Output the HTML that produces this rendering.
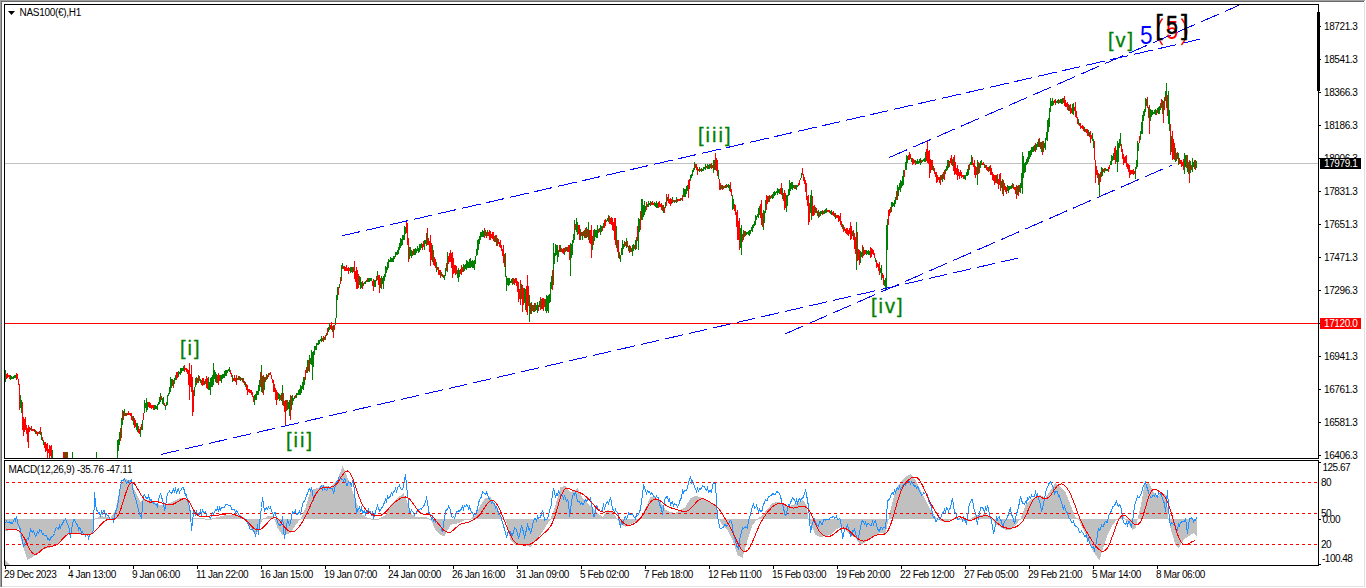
<!DOCTYPE html><html><head><meta charset="utf-8"><title>NAS100 H1</title><style>
html,body{margin:0;padding:0;width:1366px;height:588px;overflow:hidden;background:#fff;}
svg{position:absolute;left:0;top:0;}
text{font-family:"Liberation Sans",sans-serif;}
</style></head><body>
<svg width="1366" height="588" viewBox="0 0 1366 588">
<rect x="0" y="0" width="1365" height="1" fill="#a0a0a0"/>
<rect x="0" y="1" width="1364" height="1" fill="#696969"/>
<rect x="0" y="0" width="1" height="587" fill="#a0a0a0"/>
<rect x="1" y="1" width="1" height="586" fill="#696969"/>
<rect x="1364" y="2" width="1" height="585" fill="#e3e3e3"/>
<rect x="2" y="586" width="1363" height="1" fill="#e3e3e3"/>
<rect x="5" y="163" width="1313" height="1" fill="#c0c0c0"/>
<rect x="5" y="323" width="1313" height="1" fill="#ff0000"/>
<path d="M6.5 374V379M7.5 373V378M8.5 375V377M9.5 375V379M16.5 373V380M17.5 374V379M18.5 379V385M19.5 384V410M22.5 402V430M23.5 417V436M24.5 419V432M25.5 417V430M26.5 425V434M27.5 428V442M28.5 425V448M29.5 427V432M31.5 426V431M32.5 429V431M33.5 429V431M34.5 429V432M36.5 431V434M37.5 432V436M39.5 431V434M40.5 427V435M42.5 437V441M44.5 442V448M45.5 442V452M46.5 444V451M47.5 443V458M48.5 449V453M49.5 445V458M50.5 446V456M51.5 445V458M63.5 452V458M65.5 452V458M66.5 452V458M120.5 428V441M123.5 411V420M125.5 413V416M126.5 413V416M128.5 411V415M129.5 413V415M130.5 413V416M131.5 413V420M132.5 416V421M134.5 418V428M135.5 420V427M138.5 426V433M139.5 429V434M141.5 424V430M143.5 413V420M148.5 402V407M149.5 402V408M150.5 403V408M151.5 405V409M152.5 405V408M153.5 405V410M161.5 396V400M164.5 403V406M173.5 380V388M176.5 372V380M177.5 372V378M184.5 365V372M185.5 368V370M186.5 368V372M187.5 369V374M188.5 370V385M189.5 363V400M190.5 374V387M191.5 365V392M192.5 377V416M193.5 390V412M197.5 378V383M199.5 376V381M201.5 380V385M202.5 378V386M203.5 378V385M205.5 379V384M206.5 376V388M207.5 378V389M217.5 375V383M218.5 373V385M219.5 375V381M230.5 370V374M231.5 373V377M233.5 378V381M234.5 375V381M235.5 378V382M236.5 375V385M239.5 376V380M241.5 378V380M243.5 378V383M244.5 381V385M246.5 384V390M247.5 385V395M248.5 389V392M249.5 389V393M250.5 390V393M251.5 390V395M252.5 392V397M253.5 396V402M260.5 372V387M263.5 375V395M265.5 377V382M267.5 375V379M268.5 373V377M270.5 372V375M271.5 375V379M272.5 379V383M273.5 380V392M274.5 384V392M275.5 388V400M276.5 390V405M277.5 392V400M280.5 395V400M283.5 393V406M284.5 401V412M285.5 400V425M287.5 400V410M290.5 395V420M295.5 395V398M305.5 370V380M306.5 367V373M308.5 360V371M323.5 336V342M325.5 335V340M327.5 328V335M330.5 325V329M331.5 322V330M333.5 325V338M334.5 325V330M338.5 287V295M340.5 277V284M343.5 266V269M344.5 266V271M345.5 267V271M346.5 265V271M347.5 268V271M348.5 267V274M349.5 268V271M353.5 267V272M354.5 261V279M355.5 271V282M356.5 267V289M357.5 270V289M358.5 274V288M362.5 281V289M367.5 278V282M372.5 281V286M373.5 279V291M376.5 276V281M378.5 275V285M379.5 275V293M380.5 278V288M406.5 221V233M407.5 223V245M408.5 238V262M413.5 249V255M422.5 244V250M423.5 241V247M427.5 228V245M428.5 238V245M429.5 241V252M430.5 235V266M431.5 243V260M433.5 250V265M434.5 257V266M435.5 259V268M437.5 267V270M438.5 267V275M439.5 270V275M440.5 270V278M442.5 274V277M446.5 263V271M448.5 256V264M449.5 253V262M450.5 250V262M451.5 253V268M452.5 252V278M453.5 258V274M454.5 265V273M455.5 265V275M456.5 266V274M460.5 269V274M461.5 265V275M462.5 267V272M484.5 228V238M486.5 232V238M488.5 232V236M489.5 230V240M490.5 231V240M491.5 234V238M492.5 232V239M493.5 232V241M495.5 235V242M496.5 235V246M498.5 239V244M499.5 242V247M500.5 240V248M501.5 245V251M502.5 249V256M503.5 245V263M504.5 254V267M513.5 278V284M514.5 279V285M515.5 278V283M516.5 278V286M517.5 281V292M518.5 282V302M519.5 289V299M520.5 280V305M522.5 285V312M523.5 288V305M526.5 286V312M527.5 275V315M528.5 286V306M530.5 303V314M532.5 305V311M535.5 303V311M538.5 305V311M540.5 297V310M542.5 298V309M543.5 298V311M544.5 299V307M552.5 270V290M559.5 245V252M561.5 248V252M562.5 249V253M563.5 248V254M565.5 247V252M567.5 247V252M568.5 245V252M569.5 245V260M575.5 224V230M578.5 225V234M579.5 225V240M581.5 232V236M583.5 231V236M585.5 228V238M587.5 229V237M589.5 230V243M590.5 230V244M591.5 225V258M593.5 230V245M598.5 229V233M602.5 226V231M604.5 220V228M605.5 219V226M609.5 216V224M610.5 218V224M611.5 217V225M612.5 218V230M613.5 222V231M614.5 218V240M615.5 218V245M617.5 240V252M618.5 240V258M625.5 242V246M627.5 241V247M629.5 245V253M630.5 246V252M634.5 245V249M637.5 226V241M640.5 211V230M646.5 202V210M651.5 202V205M652.5 201V205M653.5 203V205M658.5 202V208M659.5 201V207M660.5 204V207M661.5 203V210M662.5 205V211M664.5 207V213M666.5 194V206M668.5 194V203M669.5 199V204M670.5 198V206M671.5 199V204M673.5 200V202M675.5 200V202M677.5 199V202M678.5 199V201M679.5 199V201M681.5 198V200M682.5 195V201M688.5 180V198M689.5 179V189M695.5 164V168M696.5 164V170M697.5 167V175M698.5 169V171M700.5 169V171M706.5 166V168M711.5 163V169M712.5 165V168M715.5 153V170M716.5 158V171M717.5 160V176M719.5 179V190M720.5 183V190M722.5 185V190M725.5 185V188M727.5 185V187M730.5 182V192M731.5 189V196M734.5 204V211M735.5 205V215M736.5 212V227M737.5 210V240M738.5 221V240M739.5 218V250M742.5 234V242M744.5 231V237M760.5 204V218M761.5 200V225M762.5 213V227M766.5 195V210M767.5 196V204M769.5 195V202M771.5 195V198M780.5 188V194M781.5 183V195M783.5 193V201M784.5 190V210M785.5 193V208M794.5 185V189M798.5 183V186M799.5 180V185M802.5 168V175M803.5 174V181M804.5 177V184M805.5 180V192M806.5 183V200M807.5 196V206M808.5 195V225M809.5 203V222M812.5 196V216M813.5 206V216M814.5 205V215M816.5 208V213M819.5 212V217M822.5 210V215M827.5 210V212M828.5 210V212M829.5 210V213M832.5 212V215M833.5 211V216M834.5 213V217M836.5 215V218M837.5 215V218M838.5 215V222M839.5 216V221M840.5 213V225M841.5 221V227M843.5 225V232M844.5 227V231M845.5 229V233M846.5 228V234M847.5 228V235M848.5 230V236M849.5 228V234M850.5 222V240M851.5 226V239M853.5 230V240M854.5 233V249M855.5 237V254M857.5 232V261M858.5 249V260M859.5 250V265M862.5 245V258M864.5 250V255M865.5 250V254M870.5 247V258M871.5 248V257M872.5 249V254M873.5 250V255M874.5 253V258M876.5 260V268M877.5 263V267M878.5 264V271M879.5 262V275M882.5 273V278M883.5 275V285M888.5 210V225M889.5 209V216M890.5 207V213M896.5 191V200M904.5 170V177M908.5 155V160M909.5 152V160M910.5 154V159M912.5 158V165M913.5 159V164M915.5 160V165M921.5 160V163M926.5 149V161M927.5 140V163M928.5 151V164M929.5 150V178M930.5 159V173M931.5 160V170M932.5 160V170M934.5 168V174M935.5 172V177M936.5 172V183M937.5 175V182M938.5 177V180M939.5 177V183M940.5 175V185M943.5 172V179M944.5 170V180M949.5 161V167M950.5 158V163M951.5 155V165M953.5 157V171M954.5 155V175M955.5 162V174M956.5 168V175M957.5 165V180M958.5 169V176M959.5 172V179M960.5 170V176M961.5 172V178M962.5 175V177M963.5 175V179M969.5 164V170M972.5 157V165M973.5 163V167M974.5 160V175M975.5 166V178M976.5 167V175M978.5 162V174M982.5 163V165M983.5 162V165M985.5 165V168M986.5 165V170M987.5 167V171M988.5 167V172M990.5 165V175M991.5 168V175M992.5 172V180M993.5 174V181M994.5 175V185M995.5 175V183M997.5 174V184M998.5 179V189M999.5 174V185M1000.5 173V191M1003.5 180V196M1004.5 183V190M1005.5 186V192M1006.5 187V194M1013.5 184V189M1014.5 187V190M1015.5 187V194M1016.5 185V199M1018.5 185V196M1035.5 143V152M1039.5 138V147M1040.5 142V149M1042.5 141V155M1054.5 100V103M1055.5 99V105M1059.5 100V103M1063.5 98V103M1064.5 96V106M1065.5 100V107M1066.5 103V107M1067.5 102V110M1068.5 104V111M1070.5 104V114M1071.5 108V113M1074.5 107V111M1075.5 102V117M1076.5 111V118M1077.5 117V124M1079.5 123V126M1080.5 123V129M1081.5 126V128M1082.5 125V129M1083.5 126V131M1085.5 129V132M1086.5 129V133M1087.5 129V136M1089.5 132V137M1090.5 131V143M1091.5 135V139M1094.5 141V160M1095.5 160V183M1096.5 166V175M1097.5 170V178M1098.5 173V185M1100.5 172V182M1103.5 169V172M1105.5 168V171M1108.5 167V172M1109.5 165V169M1114.5 148V160M1115.5 146V164M1121.5 144V152M1122.5 149V159M1123.5 154V165M1124.5 157V163M1125.5 156V163M1126.5 155V167M1127.5 163V169M1128.5 164V172M1129.5 165V178M1130.5 170V175M1131.5 170V174M1132.5 170V174M1133.5 169V175M1134.5 171V174M1139.5 136V143M1147.5 97V108M1149.5 105V134M1156.5 110V115M1161.5 99V108M1163.5 101V123M1164.5 97V110M1167.5 95V116M1170.5 124V155M1172.5 131V160M1173.5 139V159M1174.5 143V160M1177.5 152V159M1179.5 158V164M1180.5 160V164M1181.5 160V167M1182.5 162V166M1183.5 159V170M1186.5 155V168M1189.5 160V183M1191.5 165V170M1195.5 160V170" stroke="#ff0000" stroke-width="1" fill="none" shape-rendering="crispEdges"/>
<path d="M5.5 370V382M10.5 375V380M11.5 376V379M12.5 377V379M13.5 376V379M14.5 375V378M15.5 375V378M20.5 395V408M21.5 400V413M30.5 428V430M35.5 430V434M38.5 432V434M41.5 432V440M43.5 440V445M52.5 450V458M64.5 452V458M67.5 452V458M72.5 452V458M96.5 452V458M117.5 440V458M118.5 439V451M119.5 432V445M121.5 418V438M122.5 410V425M124.5 409V416M127.5 413V415M133.5 416V425M136.5 423V430M137.5 423V432M140.5 427V437M142.5 420V430M144.5 400V413M145.5 403V408M146.5 398V412M147.5 402V410M154.5 405V410M155.5 405V409M156.5 406V409M157.5 404V410M158.5 402V405M159.5 397V404M160.5 393V402M162.5 398V404M163.5 397V405M165.5 405V410M166.5 402V406M167.5 395V405M168.5 393V396M169.5 387V394M170.5 377V392M171.5 379V388M172.5 379V386M174.5 378V384M175.5 375V380M178.5 371V377M179.5 372V374M180.5 368V375M181.5 368V373M182.5 368V371M183.5 366V371M194.5 387V396M195.5 378V387M196.5 377V385M198.5 375V383M200.5 379V383M204.5 381V385M208.5 377V390M209.5 382V390M210.5 378V395M211.5 377V387M212.5 375V387M213.5 363V385M214.5 370V379M215.5 372V382M216.5 374V383M220.5 375V381M221.5 375V383M222.5 374V379M223.5 374V378M224.5 371V378M225.5 370V376M226.5 370V376M227.5 370V373M228.5 369V371M229.5 367V372M232.5 375V382M237.5 378V380M238.5 376V380M240.5 377V381M242.5 378V382M245.5 382V387M254.5 395V405M255.5 394V400M256.5 391V400M257.5 391V395M258.5 385V395M259.5 380V391M261.5 365V392M262.5 376V393M264.5 377V390M266.5 374V380M269.5 373V375M278.5 393V399M279.5 394V401M281.5 393V401M282.5 385V405M286.5 400V411M288.5 402V409M289.5 400V416M291.5 396V410M292.5 395V405M293.5 398V401M294.5 396V399M296.5 393V398M297.5 393V395M298.5 390V395M299.5 389V395M300.5 385V395M301.5 386V393M302.5 382V389M303.5 377V390M304.5 377V385M307.5 360V373M309.5 355V372M310.5 358V364M311.5 350V365M312.5 352V380M313.5 351V367M314.5 346V355M315.5 346V350M316.5 343V350M317.5 343V345M318.5 340V345M319.5 340V344M320.5 339V341M321.5 336V342M322.5 338V341M324.5 337V340M326.5 333V336M328.5 327V332M329.5 323V330M332.5 326V332M335.5 318V325M336.5 295V318M337.5 287V300M339.5 284V288M341.5 265V281M342.5 263V269M350.5 267V273M351.5 267V272M352.5 267V273M359.5 276V285M360.5 277V289M361.5 282V288M363.5 283V286M364.5 282V284M365.5 281V284M366.5 280V282M368.5 278V282M369.5 278V282M370.5 278V281M371.5 278V281M374.5 280V287M375.5 280V287M377.5 271V280M381.5 276V289M382.5 278V284M383.5 276V289M384.5 274V281M385.5 266V277M386.5 267V273M387.5 262V270M388.5 259V268M389.5 260V262M390.5 257V262M391.5 258V262M392.5 258V262M393.5 256V262M394.5 256V259M395.5 252V257M396.5 252V255M397.5 250V255M398.5 247V254M399.5 243V250M400.5 238V248M401.5 239V246M402.5 235V245M403.5 235V240M404.5 226V240M405.5 227V234M409.5 247V259M410.5 247V256M411.5 250V258M412.5 251V256M414.5 249V255M415.5 248V255M416.5 249V253M417.5 246V251M418.5 248V253M419.5 244V252M420.5 244V250M421.5 243V248M424.5 240V250M425.5 240V244M426.5 233V246M432.5 245V262M436.5 262V272M441.5 272V276M443.5 275V278M444.5 275V280M445.5 268V276M447.5 252V272M457.5 270V278M458.5 268V282M459.5 270V277M463.5 264V272M464.5 265V271M465.5 264V269M466.5 260V270M467.5 261V268M468.5 262V268M469.5 259V268M470.5 258V268M471.5 261V267M472.5 260V268M473.5 261V268M474.5 260V270M475.5 256V264M476.5 249V256M477.5 240V255M478.5 239V250M479.5 236V244M480.5 232V240M481.5 232V237M482.5 230V237M483.5 231V237M485.5 230V236M487.5 230V236M494.5 236V242M497.5 238V246M505.5 253V277M506.5 276V291M507.5 278V285M508.5 278V286M509.5 278V285M510.5 281V283M511.5 279V283M512.5 278V285M521.5 284V299M524.5 288V303M525.5 289V310M529.5 295V322M531.5 302V314M533.5 305V312M534.5 303V312M536.5 305V310M537.5 302V313M539.5 301V307M541.5 299V309M545.5 299V311M546.5 295V313M547.5 296V311M548.5 295V313M549.5 294V303M550.5 282V302M551.5 276V289M553.5 243V285M554.5 253V264M555.5 244V256M556.5 245V255M557.5 245V262M558.5 250V257M560.5 245V252M564.5 248V255M566.5 247V251M570.5 243V276M571.5 244V258M572.5 240V255M573.5 234V243M574.5 220V240M576.5 218V232M577.5 222V235M580.5 229V240M582.5 232V240M584.5 230V238M586.5 227V238M588.5 222V240M592.5 236V250M594.5 229V241M595.5 230V237M596.5 230V238M597.5 225V238M599.5 228V232M600.5 225V235M601.5 226V232M603.5 223V228M606.5 220V222M607.5 218V221M608.5 215V222M616.5 226V248M619.5 252V259M620.5 255V262M621.5 248V255M622.5 240V255M623.5 244V249M624.5 241V247M626.5 238V248M628.5 246V251M631.5 248V252M632.5 245V256M633.5 244V251M635.5 240V250M636.5 237V249M638.5 218V250M639.5 219V232M641.5 199V220M642.5 199V220M643.5 205V217M644.5 201V215M645.5 206V212M647.5 204V207M648.5 201V207M649.5 203V205M650.5 201V206M654.5 202V206M655.5 203V207M656.5 201V208M657.5 203V208M663.5 205V213M665.5 202V208M667.5 197V201M672.5 197V203M674.5 200V203M676.5 197V203M680.5 198V201M683.5 188V197M684.5 189V197M685.5 189V197M686.5 186V194M687.5 185V191M690.5 175V181M691.5 174V178M692.5 170V176M693.5 168V172M694.5 162V170M699.5 167V172M701.5 168V172M702.5 169V171M703.5 167V171M704.5 167V169M705.5 164V170M707.5 164V169M708.5 165V169M709.5 164V169M710.5 164V168M713.5 160V173M714.5 160V170M718.5 170V179M721.5 185V189M723.5 186V189M724.5 186V188M726.5 184V188M728.5 184V188M729.5 185V191M732.5 195V210M733.5 199V209M740.5 228V248M741.5 225V255M743.5 230V240M745.5 231V236M746.5 232V235M747.5 232V234M748.5 231V235M749.5 230V236M750.5 230V234M751.5 227V231M752.5 225V232M753.5 224V228M754.5 221V226M755.5 215V225M756.5 216V220M757.5 214V217M758.5 208V218M759.5 206V215M763.5 210V230M764.5 211V223M765.5 200V213M768.5 196V202M770.5 196V199M772.5 194V199M773.5 192V198M774.5 191V196M775.5 192V195M776.5 191V193M777.5 188V195M778.5 189V193M779.5 189V194M782.5 188V199M786.5 195V212M787.5 195V206M788.5 189V196M789.5 180V195M790.5 183V191M791.5 182V189M792.5 182V190M793.5 185V188M795.5 185V189M796.5 185V190M797.5 185V187M800.5 178V180M801.5 173V178M810.5 195V213M811.5 190V220M815.5 207V213M817.5 211V216M818.5 210V218M820.5 211V216M821.5 211V214M823.5 211V214M824.5 210V214M825.5 209V213M826.5 208V213M830.5 211V214M831.5 210V215M835.5 213V219M842.5 224V229M852.5 231V236M856.5 222V270M860.5 251V263M861.5 252V257M863.5 247V256M866.5 250V255M867.5 251V254M868.5 250V255M869.5 251V255M875.5 258V262M880.5 268V273M881.5 265V280M884.5 280V286M885.5 278V290M886.5 225V288M887.5 219V250M891.5 202V212M892.5 202V207M893.5 203V206M894.5 200V207M895.5 197V204M897.5 185V200M898.5 187V196M899.5 183V190M900.5 180V192M901.5 181V188M902.5 176V186M903.5 170V185M905.5 162V170M906.5 155V170M907.5 156V163M911.5 158V162M914.5 160V163M916.5 161V164M917.5 159V164M918.5 161V164M919.5 159V163M920.5 158V165M922.5 160V162M923.5 159V161M924.5 158V162M925.5 152V162M933.5 166V171M941.5 175V180M942.5 174V182M945.5 169V174M946.5 166V171M947.5 160V170M948.5 160V168M952.5 159V166M964.5 175V179M965.5 175V180M966.5 172V176M967.5 169V176M968.5 165V175M970.5 162V165M971.5 155V165M977.5 160V185M979.5 163V173M980.5 161V168M981.5 160V165M984.5 164V168M989.5 166V171M996.5 175V183M1001.5 181V188M1002.5 179V194M1007.5 185V191M1008.5 186V193M1009.5 186V190M1010.5 186V189M1011.5 185V189M1012.5 183V188M1017.5 186V195M1019.5 185V192M1020.5 183V193M1021.5 173V188M1022.5 152V194M1023.5 156V178M1024.5 163V173M1025.5 162V172M1026.5 159V165M1027.5 157V164M1028.5 151V162M1029.5 151V159M1030.5 150V157M1031.5 147V155M1032.5 147V152M1033.5 146V152M1034.5 145V151M1036.5 144V150M1037.5 142V147M1038.5 139V147M1041.5 142V152M1043.5 141V152M1044.5 143V148M1045.5 138V150M1046.5 132V140M1047.5 120V141M1048.5 118V132M1049.5 108V127M1050.5 98V112M1051.5 101V106M1052.5 98V106M1053.5 101V105M1056.5 101V103M1057.5 100V103M1058.5 99V104M1060.5 99V103M1061.5 99V104M1062.5 98V104M1069.5 105V111M1072.5 104V114M1073.5 103V115M1078.5 119V125M1084.5 127V132M1088.5 130V136M1092.5 133V141M1093.5 139V148M1099.5 174V197M1101.5 167V177M1102.5 168V176M1104.5 168V173M1106.5 169V171M1107.5 169V171M1110.5 161V165M1111.5 155V165M1112.5 156V161M1113.5 153V160M1116.5 150V162M1117.5 141V172M1118.5 143V162M1119.5 139V148M1120.5 133V146M1135.5 167V179M1136.5 160V169M1137.5 141V167M1138.5 143V151M1140.5 131V140M1141.5 122V134M1142.5 115V134M1143.5 111V121M1144.5 109V116M1145.5 98V112M1146.5 99V106M1148.5 107V118M1150.5 109V121M1151.5 110V117M1152.5 110V115M1153.5 112V114M1154.5 110V114M1155.5 109V115M1157.5 108V113M1158.5 107V114M1159.5 106V114M1160.5 103V110M1162.5 100V114M1165.5 91V101M1166.5 83V108M1168.5 91V124M1169.5 110V131M1171.5 136V152M1175.5 148V162M1176.5 153V161M1178.5 153V165M1184.5 153V174M1185.5 155V167M1187.5 155V172M1188.5 162V174M1190.5 161V173M1192.5 158V172M1193.5 162V167M1194.5 160V169M1196.5 161V168" stroke="#008000" stroke-width="1" fill="none" shape-rendering="crispEdges"/>
<line x1="342.4" y1="235.7" x2="1199.5" y2="39.3" stroke="#0000ff" stroke-width="1" stroke-dasharray="18.467 6.156" shape-rendering="crispEdges"/>
<line x1="161" y1="454.4" x2="1018" y2="258.1" stroke="#0000ff" stroke-width="1" stroke-dasharray="18.466 6.155" shape-rendering="crispEdges"/>
<line x1="785.1" y1="333.9" x2="1172" y2="165" stroke="#0000ff" stroke-width="1" stroke-dasharray="19.640 6.547" shape-rendering="crispEdges"/>
<line x1="889" y1="157.6" x2="1238.8" y2="5.4" stroke="#0000ff" stroke-width="1" stroke-dasharray="19.630 6.543" shape-rendering="crispEdges"/>
<path d="M4.5 4.5H1318.5V458.5H4.5Z" stroke="#000" stroke-width="1" fill="none" shape-rendering="crispEdges"/>
<rect x="1317" y="12" width="3" height="79" fill="#000"/>
<rect x="1319" y="26" width="2" height="1" fill="#000"/>
<text x="1324" y="30" font-size="10" letter-spacing="-0.4" fill="#000">18721.3</text>
<rect x="1319" y="59" width="2" height="1" fill="#000"/>
<text x="1324" y="63" font-size="10" letter-spacing="-0.4" fill="#000">18541.3</text>
<rect x="1319" y="92" width="2" height="1" fill="#000"/>
<text x="1324" y="96" font-size="10" letter-spacing="-0.4" fill="#000">18366.3</text>
<rect x="1319" y="125" width="2" height="1" fill="#000"/>
<text x="1324" y="129" font-size="10" letter-spacing="-0.4" fill="#000">18186.3</text>
<rect x="1319" y="158" width="2" height="1" fill="#000"/>
<text x="1324" y="162" font-size="10" letter-spacing="-0.4" fill="#000">18006.3</text>
<rect x="1319" y="191" width="2" height="1" fill="#000"/>
<text x="1324" y="195" font-size="10" letter-spacing="-0.4" fill="#000">17831.3</text>
<rect x="1319" y="224" width="2" height="1" fill="#000"/>
<text x="1324" y="228" font-size="10" letter-spacing="-0.4" fill="#000">17651.3</text>
<rect x="1319" y="257" width="2" height="1" fill="#000"/>
<text x="1324" y="261" font-size="10" letter-spacing="-0.4" fill="#000">17471.3</text>
<rect x="1319" y="290" width="2" height="1" fill="#000"/>
<text x="1324" y="294" font-size="10" letter-spacing="-0.4" fill="#000">17296.3</text>
<rect x="1319" y="323" width="2" height="1" fill="#000"/>
<rect x="1319" y="356" width="2" height="1" fill="#000"/>
<text x="1324" y="360" font-size="10" letter-spacing="-0.4" fill="#000">16941.3</text>
<rect x="1319" y="389" width="2" height="1" fill="#000"/>
<text x="1324" y="393" font-size="10" letter-spacing="-0.4" fill="#000">16761.3</text>
<rect x="1319" y="422" width="2" height="1" fill="#000"/>
<text x="1324" y="426" font-size="10" letter-spacing="-0.4" fill="#000">16581.3</text>
<rect x="1319" y="455" width="2" height="1" fill="#000"/>
<text x="1324" y="459" font-size="10" letter-spacing="-0.4" fill="#000">16406.3</text>
<rect x="1320" y="158" width="41" height="11" fill="#000"/>
<text x="1324" y="167" font-size="10" letter-spacing="-0.4" fill="#fff">17979.1</text>
<rect x="1320" y="318" width="41" height="11" fill="#ff0000"/>
<text x="1324" y="327" font-size="10" letter-spacing="-0.4" fill="#fff">17120.0</text>
<path d="M8 11H15L11.5 15Z" fill="#000"/>
<text x="19.5" y="16" font-size="10" letter-spacing="-0.3" fill="#000">NAS100(€),H1</text>
<text x="180" y="355" font-size="20" letter-spacing="2" fill="#008000" stroke="#008000" stroke-width="0.3">[i]</text>
<text x="286" y="447" font-size="20" letter-spacing="2" fill="#008000" stroke="#008000" stroke-width="0.3">[ii]</text>
<text x="698" y="142" font-size="20" letter-spacing="2" fill="#008000" stroke="#008000" stroke-width="0.3">[iii]</text>
<text x="871" y="313" font-size="20" letter-spacing="2" fill="#008000" stroke="#008000" stroke-width="0.3">[iv]</text>
<text x="1108" y="47" font-size="20" letter-spacing="2" fill="#008000" stroke="#008000" stroke-width="0.3">[v]</text>
<text transform="translate(1140 44) scale(0.87 1)" x="0" y="0" font-size="26" fill="#0000ff">5</text>
<path d="M1162.5 18.5Q1152.7 31.7 1162.5 45M1181.5 18.5Q1192 31.7 1181.5 45" stroke="#ff0000" stroke-width="1.4" fill="none"/>
<text transform="translate(1166.2 39) scale(0.82 1)" x="0" y="0" font-size="26" fill="#ff0000">5</text>
<text x="1155" y="34" font-size="28" letter-spacing="0" fill="#000000" stroke="#000000" stroke-width="0.3">[</text>
<text x="1181" y="34" font-size="28" letter-spacing="0" fill="#000000" stroke="#000000" stroke-width="0.3">]</text>
<text transform="translate(1166 34) scale(0.82 1)" x="0" y="0" font-size="26" fill="#000" stroke="#000" stroke-width="0.5">5</text>
<path d="M5.5 519V531M6.5 519V531M7.5 519V531M8.5 519V530M9.5 519V530M10.5 519V530M11.5 519V530M12.5 519V530M13.5 519V529M14.5 519V529M15.5 519V529M16.5 519V529M17.5 519V529M18.5 519V528M19.5 519V533M20.5 519V537M21.5 519V541M22.5 519V545M23.5 519V548M24.5 519V551M25.5 519V554M26.5 519V557M27.5 519V560M28.5 519V559M29.5 519V559M30.5 519V558M31.5 519V558M32.5 519V557M33.5 519V556M34.5 519V556M35.5 519V555M36.5 519V554M37.5 519V553M38.5 519V552M39.5 519V551M40.5 519V550M41.5 519V550M42.5 519V549M43.5 519V549M44.5 519V549M45.5 519V549M46.5 519V548M47.5 519V548M48.5 519V548M49.5 519V548M50.5 519V547M51.5 519V547M52.5 519V546M53.5 519V546M54.5 519V545M55.5 519V545M56.5 519V544M57.5 519V544M58.5 519V543M59.5 519V543M60.5 519V542M61.5 519V541M62.5 519V539M63.5 519V538M64.5 519V537M65.5 519V536M66.5 519V535M67.5 519V535M68.5 519V534M69.5 519V534M70.5 519V533M71.5 519V533M72.5 519V533M73.5 519V533M74.5 519V533M75.5 519V534M76.5 519V534M77.5 519V534M78.5 519V534M79.5 519V534M80.5 519V534M81.5 519V534M82.5 519V534M83.5 519V534M84.5 519V534M85.5 519V534M86.5 519V534M87.5 519V535M88.5 519V535M89.5 519V535M90.5 519V535M91.5 519V534M92.5 519V534M93.5 519V520M94.5 519V520M95.5 518V519M96.5 518V519M97.5 518V519M98.5 517V519M99.5 516V519M100.5 516V519M101.5 516V519M102.5 516V519M103.5 517V519M104.5 517V519M105.5 517V519M106.5 517V519M107.5 517V519M108.5 517V519M109.5 518V519M110.5 518V519M111.5 516V519M112.5 515V519M113.5 513V519M114.5 512V519M115.5 510V519M116.5 505V519M117.5 500V519M118.5 495V519M119.5 490V519M120.5 485V519M121.5 484V519M122.5 483V519M123.5 481V519M124.5 480V519M125.5 479V519M126.5 479V519M127.5 480V519M128.5 480V519M129.5 480V519M130.5 481V519M131.5 483V519M132.5 485V519M133.5 488V519M134.5 490V519M135.5 492V519M136.5 494V519M137.5 496V519M138.5 498V519M139.5 500V519M140.5 502V519M141.5 501V519M142.5 500V519M143.5 499V519M144.5 499V519M145.5 499V519M146.5 500V519M147.5 500V519M148.5 500V519M149.5 500V519M150.5 501V519M151.5 501V519M152.5 501V519M153.5 502V519M154.5 502V519M155.5 503V519M156.5 503V519M157.5 504V519M158.5 504V519M159.5 505V519M160.5 505V519M161.5 505V519M162.5 505V519M163.5 504V519M164.5 504V519M165.5 504V519M166.5 504V519M167.5 504V519M168.5 503V519M169.5 503V519M170.5 503V519M171.5 502V519M172.5 502V519M173.5 501V519M174.5 501V519M175.5 500V519M176.5 500V519M177.5 499V519M178.5 499V519M179.5 498V519M180.5 498V519M181.5 498V519M182.5 498V519M183.5 498V519M184.5 498V519M185.5 499V519M186.5 499V519M187.5 499V519M188.5 504V519M189.5 510V519M190.5 519V520M191.5 519V520M192.5 519V520M193.5 518V519M194.5 518V519M195.5 518V519M196.5 518V519M197.5 518V519M198.5 518V519M199.5 518V519M200.5 518V519M201.5 518V519M202.5 518V519M203.5 518V519M204.5 518V519M205.5 519V520M206.5 519V520M207.5 519V520M208.5 519V520M209.5 519V520M210.5 519V520M211.5 519V520M212.5 518V519M213.5 518V519M214.5 518V519M215.5 518V519M216.5 517V519M217.5 517V519M218.5 517V519M219.5 517V519M220.5 516V519M221.5 516V519M222.5 516V519M223.5 516V519M224.5 515V519M225.5 515V519M226.5 515V519M227.5 515V519M228.5 515V519M229.5 515V519M230.5 515V519M231.5 515V519M232.5 515V519M233.5 515V519M234.5 515V519M235.5 515V519M236.5 515V519M237.5 515V519M238.5 515V519M239.5 515V519M240.5 515V519M241.5 516V519M242.5 517V519M243.5 517V519M244.5 518V519M245.5 519V520M246.5 519V521M247.5 519V523M248.5 519V524M249.5 519V526M250.5 519V528M251.5 519V529M252.5 519V531M253.5 519V532M254.5 519V534M255.5 519V535M256.5 519V533M257.5 519V532M258.5 519V530M259.5 519V527M260.5 519V524M261.5 519V522M262.5 519V520M263.5 518V519M264.5 518V519M265.5 518V519M266.5 517V519M267.5 516V519M268.5 516V519M269.5 516V519M270.5 516V519M271.5 516V519M272.5 516V519M273.5 516V519M274.5 519V520M275.5 519V522M276.5 519V525M277.5 519V528M278.5 519V529M279.5 519V531M280.5 519V532M281.5 519V534M282.5 519V535M283.5 519V535M284.5 519V535M285.5 519V534M286.5 519V534M287.5 519V534M288.5 519V534M289.5 519V533M290.5 519V533M291.5 519V531M292.5 519V530M293.5 519V528M294.5 519V527M295.5 519V525M296.5 519V524M297.5 519V523M298.5 519V521M299.5 519V520M300.5 519V520M301.5 517V519M302.5 515V519M303.5 512V519M304.5 510V519M305.5 508V519M306.5 504V519M307.5 501V519M308.5 497V519M309.5 494V519M310.5 490V519M311.5 490V519M312.5 490V519M313.5 489V519M314.5 489V519M315.5 489V519M316.5 488V519M317.5 488V519M318.5 488V519M319.5 487V519M320.5 486V519M321.5 486V519M322.5 485V519M323.5 485V519M324.5 486V519M325.5 486V519M326.5 486V519M327.5 486V519M328.5 486V519M329.5 487V519M330.5 487V519M331.5 486V519M332.5 485V519M333.5 484V519M334.5 483V519M335.5 482V519M336.5 481V519M337.5 480V519M338.5 477V519M339.5 474V519M340.5 472V519M341.5 469V519M342.5 466V519M343.5 468V519M344.5 470V519M345.5 473V519M346.5 475V519M347.5 478V519M348.5 480V519M349.5 482V519M350.5 485V519M351.5 488V519M352.5 491V519M353.5 494V519M354.5 497V519M355.5 500V519M356.5 503V519M357.5 505V519M358.5 508V519M359.5 510V519M360.5 513V519M361.5 514V519M362.5 515V519M363.5 515V519M364.5 516V519M365.5 517V519M366.5 517V519M367.5 518V519M368.5 518V519M369.5 518V519M370.5 518V519M371.5 519V520M372.5 519V520M373.5 519V520M374.5 519V520M375.5 519V520M376.5 519V520M377.5 519V520M378.5 519V520M379.5 518V519M380.5 518V519M381.5 517V519M382.5 517V519M383.5 516V519M384.5 516V519M385.5 515V519M386.5 513V519M387.5 511V519M388.5 509V519M389.5 507V519M390.5 505V519M391.5 504V519M392.5 503V519M393.5 502V519M394.5 501V519M395.5 500V519M396.5 499V519M397.5 498V519M398.5 497V519M399.5 496V519M400.5 496V519M401.5 495V519M402.5 494V519M403.5 493V519M404.5 496V519M405.5 498V519M406.5 500V519M407.5 503V519M408.5 506V519M409.5 510V519M410.5 513V519M411.5 514V519M412.5 515V519M413.5 515V519M414.5 516V519M415.5 517V519M416.5 517V519M417.5 517V519M418.5 517V519M419.5 517V519M420.5 517V519M421.5 517V519M422.5 517V519M423.5 517V519M424.5 517V519M425.5 517V519M426.5 517V519M427.5 518V519M428.5 518V519M429.5 519V520M430.5 519V520M431.5 519V521M432.5 519V523M433.5 519V526M434.5 519V528M435.5 519V530M436.5 519V531M437.5 519V532M438.5 519V533M439.5 519V534M440.5 519V535M441.5 519V535M442.5 519V536M443.5 519V536M444.5 519V536M445.5 519V534M446.5 519V532M447.5 519V530M448.5 519V529M449.5 519V527M450.5 519V525M451.5 519V525M452.5 519V524M453.5 519V524M454.5 519V524M455.5 519V524M456.5 519V524M457.5 519V523M458.5 519V523M459.5 519V523M460.5 519V522M461.5 519V522M462.5 519V521M463.5 519V521M464.5 519V520M465.5 519V520M466.5 519V520M467.5 519V520M468.5 519V520M469.5 519V520M470.5 519V520M471.5 518V519M472.5 517V519M473.5 517V519M474.5 516V519M475.5 515V519M476.5 513V519M477.5 511V519M478.5 509V519M479.5 507V519M480.5 505V519M481.5 504V519M482.5 502V519M483.5 501V519M484.5 499V519M485.5 498V519M486.5 498V519M487.5 498V519M488.5 497V519M489.5 497V519M490.5 497V519M491.5 499V519M492.5 500V519M493.5 502V519M494.5 503V519M495.5 505V519M496.5 507V519M497.5 510V519M498.5 512V519M499.5 515V519M500.5 517V519M501.5 517V519M502.5 518V519M503.5 518V519M504.5 519V520M505.5 519V520M506.5 519V523M507.5 519V527M508.5 519V532M509.5 519V536M510.5 519V540M511.5 519V541M512.5 519V542M513.5 519V543M514.5 519V544M515.5 519V545M516.5 519V545M517.5 519V545M518.5 519V545M519.5 519V545M520.5 519V545M521.5 519V545M522.5 519V545M523.5 519V545M524.5 519V545M525.5 519V545M526.5 519V545M527.5 519V546M528.5 519V546M529.5 519V547M530.5 519V547M531.5 519V546M532.5 519V544M533.5 519V543M534.5 519V541M535.5 519V540M536.5 519V539M537.5 519V538M538.5 519V537M539.5 519V536M540.5 519V535M541.5 519V533M542.5 519V532M543.5 519V530M544.5 519V529M545.5 519V527M546.5 519V525M547.5 519V524M548.5 519V522M549.5 519V521M550.5 519V520M551.5 516V519M552.5 513V519M553.5 511V519M554.5 508V519M555.5 505V519M556.5 501V519M557.5 498V519M558.5 494V519M559.5 491V519M560.5 487V519M561.5 487V519M562.5 487V519M563.5 486V519M564.5 486V519M565.5 486V519M566.5 487V519M567.5 488V519M568.5 490V519M569.5 491V519M570.5 492V519M571.5 492V519M572.5 491V519M573.5 491V519M574.5 490V519M575.5 490V519M576.5 489V519M577.5 488V519M578.5 490V519M579.5 492V519M580.5 494V519M581.5 496V519M582.5 498V519M583.5 499V519M584.5 500V519M585.5 501V519M586.5 502V519M587.5 503V519M588.5 504V519M589.5 505V519M590.5 506V519M591.5 507V519M592.5 508V519M593.5 509V519M594.5 510V519M595.5 511V519M596.5 512V519M597.5 513V519M598.5 514V519M599.5 515V519M600.5 515V519M601.5 516V519M602.5 517V519M603.5 516V519M604.5 514V519M605.5 513V519M606.5 511V519M607.5 510V519M608.5 510V519M609.5 511V519M610.5 511V519M611.5 512V519M612.5 512V519M613.5 513V519M614.5 515V519M615.5 516V519M616.5 518V519M617.5 519V520M618.5 519V521M619.5 519V522M620.5 519V524M621.5 519V525M622.5 519V525M623.5 519V526M624.5 519V526M625.5 519V527M626.5 519V526M627.5 519V526M628.5 519V525M629.5 519V525M630.5 519V524M631.5 519V524M632.5 519V523M633.5 519V523M634.5 519V522M635.5 519V522M636.5 519V521M637.5 519V520M638.5 519V520M639.5 518V519M640.5 517V519M641.5 515V519M642.5 513V519M643.5 512V519M644.5 510V519M645.5 508V519M646.5 506V519M647.5 504V519M648.5 501V519M649.5 499V519M650.5 497V519M651.5 497V519M652.5 497V519M653.5 497V519M654.5 497V519M655.5 497V519M656.5 498V519M657.5 499V519M658.5 500V519M659.5 501V519M660.5 502V519M661.5 504V519M662.5 505V519M663.5 507V519M664.5 508V519M665.5 510V519M666.5 510V519M667.5 511V519M668.5 511V519M669.5 512V519M670.5 512V519M671.5 512V519M672.5 512V519M673.5 513V519M674.5 513V519M675.5 513V519M676.5 512V519M677.5 512V519M678.5 511V519M679.5 511V519M680.5 510V519M681.5 509V519M682.5 509V519M683.5 508V519M684.5 508V519M685.5 507V519M686.5 505V519M687.5 503V519M688.5 502V519M689.5 500V519M690.5 498V519M691.5 498V519M692.5 497V519M693.5 497V519M694.5 496V519M695.5 496V519M696.5 496V519M697.5 496V519M698.5 497V519M699.5 497V519M700.5 497V519M701.5 498V519M702.5 498V519M703.5 499V519M704.5 499V519M705.5 500V519M706.5 501V519M707.5 501V519M708.5 502V519M709.5 502V519M710.5 503V519M711.5 503V519M712.5 504V519M713.5 504V519M714.5 505V519M715.5 505V519M716.5 510V519M717.5 514V519M718.5 519V520M719.5 519V520M720.5 519V522M721.5 519V524M722.5 519V525M723.5 519V526M724.5 519V527M725.5 519V528M726.5 519V529M727.5 519V530M728.5 519V532M729.5 519V534M730.5 519V536M731.5 519V538M732.5 519V540M733.5 519V543M734.5 519V546M735.5 519V549M736.5 519V552M737.5 519V555M738.5 519V556M739.5 519V556M740.5 519V557M741.5 519V557M742.5 519V558M743.5 519V554M744.5 519V551M745.5 519V547M746.5 519V544M747.5 519V540M748.5 519V537M749.5 519V534M750.5 519V531M751.5 519V528M752.5 519V525M753.5 519V524M754.5 519V523M755.5 519V521M756.5 519V520M757.5 519V520M758.5 518V519M759.5 517V519M760.5 517V519M761.5 516V519M762.5 515V519M763.5 514V519M764.5 513V519M765.5 511V519M766.5 510V519M767.5 509V519M768.5 508V519M769.5 507V519M770.5 505V519M771.5 504V519M772.5 503V519M773.5 503V519M774.5 503V519M775.5 502V519M776.5 502V519M777.5 502V519M778.5 502V519M779.5 502V519M780.5 503V519M781.5 503V519M782.5 503V519M783.5 504V519M784.5 505V519M785.5 505V519M786.5 506V519M787.5 507V519M788.5 507V519M789.5 506V519M790.5 506V519M791.5 505V519M792.5 505V519M793.5 505V519M794.5 504V519M795.5 504V519M796.5 503V519M797.5 503V519M798.5 502V519M799.5 502V519M800.5 501V519M801.5 501V519M802.5 500V519M803.5 501V519M804.5 502V519M805.5 504V519M806.5 505V519M807.5 512V519M808.5 519V520M809.5 519V521M810.5 519V524M811.5 519V526M812.5 519V528M813.5 519V530M814.5 519V533M815.5 519V535M816.5 519V535M817.5 519V536M818.5 519V536M819.5 519V537M820.5 519V537M821.5 519V537M822.5 519V537M823.5 519V536M824.5 519V536M825.5 519V536M826.5 519V536M827.5 519V536M828.5 519V535M829.5 519V535M830.5 519V535M831.5 519V534M832.5 519V533M833.5 519V532M834.5 519V531M835.5 519V530M836.5 519V529M837.5 519V529M838.5 519V528M839.5 519V528M840.5 519V527M841.5 519V528M842.5 519V528M843.5 519V529M844.5 519V529M845.5 519V530M846.5 519V531M847.5 519V532M848.5 519V533M849.5 519V534M850.5 519V535M851.5 519V536M852.5 519V536M853.5 519V537M854.5 519V537M855.5 519V538M856.5 519V539M857.5 519V541M858.5 519V542M859.5 519V544M860.5 519V545M861.5 519V544M862.5 519V544M863.5 519V543M864.5 519V543M865.5 519V542M866.5 519V541M867.5 519V540M868.5 519V540M869.5 519V539M870.5 519V538M871.5 519V537M872.5 519V537M873.5 519V536M874.5 519V536M875.5 519V535M876.5 519V535M877.5 519V534M878.5 519V534M879.5 519V533M880.5 519V533M881.5 519V533M882.5 519V533M883.5 519V534M884.5 519V534M885.5 519V534M886.5 519V529M887.5 519V524M888.5 519V520M889.5 514V519M890.5 510V519M891.5 506V519M892.5 502V519M893.5 498V519M894.5 494V519M895.5 490V519M896.5 488V519M897.5 487V519M898.5 485V519M899.5 484V519M900.5 482V519M901.5 481V519M902.5 480V519M903.5 479V519M904.5 478V519M905.5 477V519M906.5 476V519M907.5 476V519M908.5 475V519M909.5 475V519M910.5 474V519M911.5 475V519M912.5 476V519M913.5 478V519M914.5 479V519M915.5 480V519M916.5 482V519M917.5 484V519M918.5 486V519M919.5 488V519M920.5 490V519M921.5 492V519M922.5 494V519M923.5 496V519M924.5 498V519M925.5 500V519M926.5 502V519M927.5 504V519M928.5 506V519M929.5 508V519M930.5 510V519M931.5 511V519M932.5 513V519M933.5 514V519M934.5 516V519M935.5 517V519M936.5 518V519M937.5 519V520M938.5 519V520M939.5 519V520M940.5 519V521M941.5 519V521M942.5 519V521M943.5 519V522M944.5 519V522M945.5 519V522M946.5 519V522M947.5 519V521M948.5 519V521M949.5 519V520M950.5 519V520M951.5 519V520M952.5 519V520M953.5 518V519M954.5 518V519M955.5 517V519M956.5 517V519M957.5 518V519M958.5 518V519M959.5 519V520M960.5 519V520M961.5 519V520M962.5 519V520M963.5 519V521M964.5 519V521M965.5 519V522M966.5 519V521M967.5 519V521M968.5 519V520M969.5 519V520M970.5 519V520M971.5 518V519M972.5 517V519M973.5 517V519M974.5 516V519M975.5 515V519M976.5 515V519M977.5 515V519M978.5 515V519M979.5 515V519M980.5 515V519M981.5 515V519M982.5 515V519M983.5 514V519M984.5 514V519M985.5 514V519M986.5 515V519M987.5 515V519M988.5 516V519M989.5 516V519M990.5 517V519M991.5 518V519M992.5 519V520M993.5 519V521M994.5 519V523M995.5 519V524M996.5 519V525M997.5 519V525M998.5 519V526M999.5 519V526M1000.5 519V527M1001.5 519V528M1002.5 519V528M1003.5 519V529M1004.5 519V529M1005.5 519V530M1006.5 519V530M1007.5 519V530M1008.5 519V530M1009.5 519V530M1010.5 519V530M1011.5 519V529M1012.5 519V528M1013.5 519V527M1014.5 519V526M1015.5 519V525M1016.5 519V524M1017.5 519V523M1018.5 519V521M1019.5 519V520M1020.5 519V520M1021.5 516V519M1022.5 513V519M1023.5 511V519M1024.5 508V519M1025.5 505V519M1026.5 504V519M1027.5 503V519M1028.5 502V519M1029.5 501V519M1030.5 500V519M1031.5 499V519M1032.5 499V519M1033.5 498V519M1034.5 498V519M1035.5 497V519M1036.5 497V519M1037.5 496V519M1038.5 496V519M1039.5 495V519M1040.5 495V519M1041.5 496V519M1042.5 496V519M1043.5 497V519M1044.5 497V519M1045.5 498V519M1046.5 496V519M1047.5 495V519M1048.5 493V519M1049.5 492V519M1050.5 490V519M1051.5 489V519M1052.5 487V519M1053.5 486V519M1054.5 484V519M1055.5 483V519M1056.5 484V519M1057.5 485V519M1058.5 485V519M1059.5 486V519M1060.5 487V519M1061.5 488V519M1062.5 489V519M1063.5 490V519M1064.5 491V519M1065.5 492V519M1066.5 495V519M1067.5 497V519M1068.5 500V519M1069.5 502V519M1070.5 505V519M1071.5 507V519M1072.5 510V519M1073.5 512V519M1074.5 515V519M1075.5 517V519M1076.5 518V519M1077.5 518V519M1078.5 519V520M1079.5 519V521M1080.5 519V524M1081.5 519V526M1082.5 519V528M1083.5 519V530M1084.5 519V532M1085.5 519V534M1086.5 519V536M1087.5 519V538M1088.5 519V540M1089.5 519V543M1090.5 519V545M1091.5 519V548M1092.5 519V550M1093.5 519V552M1094.5 519V553M1095.5 519V555M1096.5 519V556M1097.5 519V558M1098.5 519V559M1099.5 519V560M1100.5 519V557M1101.5 519V553M1102.5 519V550M1103.5 519V547M1104.5 519V544M1105.5 519V541M1106.5 519V538M1107.5 519V535M1108.5 519V533M1109.5 519V531M1110.5 519V529M1111.5 519V527M1112.5 519V525M1113.5 519V524M1114.5 519V523M1115.5 519V521M1116.5 519V520M1117.5 519V520M1118.5 518V519M1119.5 517V519M1120.5 517V519M1121.5 516V519M1122.5 515V519M1123.5 516V519M1124.5 518V519M1125.5 519V520M1126.5 519V521M1127.5 519V522M1128.5 519V524M1129.5 519V525M1130.5 519V527M1131.5 519V528M1132.5 519V530M1133.5 519V529M1134.5 519V529M1135.5 519V528M1136.5 519V524M1137.5 519V520M1138.5 515V519M1139.5 511V519M1140.5 507V519M1141.5 502V519M1142.5 496V519M1143.5 490V519M1144.5 485V519M1145.5 484V519M1146.5 484V519M1147.5 483V519M1148.5 482V519M1149.5 484V519M1150.5 486V519M1151.5 488V519M1152.5 490V519M1153.5 492V519M1154.5 493V519M1155.5 495V519M1156.5 496V519M1157.5 498V519M1158.5 496V519M1159.5 495V519M1160.5 493V519M1161.5 493V519M1162.5 494V519M1163.5 494V519M1164.5 494V519M1165.5 495V519M1166.5 495V519M1167.5 507V519M1168.5 519V520M1169.5 519V523M1170.5 519V528M1171.5 519V532M1172.5 519V535M1173.5 519V538M1174.5 519V542M1175.5 519V545M1176.5 519V546M1177.5 519V547M1178.5 519V548M1179.5 519V547M1180.5 519V545M1181.5 519V543M1182.5 519V542M1183.5 519V540M1184.5 519V539M1185.5 519V538M1186.5 519V538M1187.5 519V537M1188.5 519V536M1189.5 519V536M1190.5 519V535M1191.5 519V534M1192.5 519V534M1193.5 519V533M1194.5 519V534M1195.5 519V535M1196.5 519V536" stroke="#c0c0c0" stroke-width="1" fill="none" shape-rendering="crispEdges"/>
<path d="M5 560L5 565L10 565Z" fill="#c0c0c0"/>
<line x1="6" y1="482.5" x2="1318" y2="482.5" stroke="#ff0000" stroke-width="1" stroke-dasharray="3 3" shape-rendering="crispEdges"/>
<line x1="6" y1="513.5" x2="1318" y2="513.5" stroke="#ff0000" stroke-width="1" stroke-dasharray="3 3" shape-rendering="crispEdges"/>
<line x1="6" y1="544.5" x2="1318" y2="544.5" stroke="#ff0000" stroke-width="1" stroke-dasharray="3 3" shape-rendering="crispEdges"/>
<polyline points="5.5,523.3 6.5,520.7 7.5,522.6 8.5,522.9 9.5,522.0 10.5,523.1 11.5,523.0 12.5,523.4 13.5,520.5 14.5,519.0 15.5,521.2 16.5,515.8 17.5,522.7 18.5,524.9 19.5,527.3 20.5,529.7 21.5,536.3 22.5,542.0 23.5,546.1 24.5,545.0 25.5,540.2 26.5,540.4 27.5,538.2 28.5,538.9 29.5,535.3 30.5,528.2 31.5,531.4 32.5,532.4 33.5,530.7 34.5,533.5 35.5,536.2 36.5,534.7 37.5,531.9 38.5,533.3 39.5,530.0 40.5,530.2 41.5,530.6 42.5,534.4 43.5,533.7 44.5,535.5 45.5,535.9 46.5,535.4 47.5,539.3 48.5,539.0 49.5,540.0 50.5,538.9 51.5,536.3 52.5,536.4 53.5,535.6 54.5,533.5 55.5,529.2 56.5,527.5 57.5,528.7 58.5,529.7 59.5,525.5 60.5,527.6 61.5,524.1 62.5,524.1 63.5,521.0 64.5,520.5 65.5,519.2 66.5,520.3 67.5,524.8 68.5,525.4 69.5,530.5 70.5,538.2 71.5,529.2 72.5,524.4 73.5,519.7 74.5,519.5 75.5,521.7 76.5,523.8 77.5,525.1 78.5,529.5 79.5,527.4 80.5,528.5 81.5,532.9 82.5,531.5 83.5,534.3 84.5,534.2 85.5,535.8 86.5,534.3 87.5,534.4 88.5,538.3 89.5,535.5 90.5,534.5 91.5,533.7 92.5,532.7 93.5,528.9 94.5,492.3 95.5,503.6 96.5,510.1 97.5,510.2 98.5,513.2 99.5,512.5 100.5,516.4 101.5,511.0 102.5,513.3 103.5,510.3 104.5,511.0 105.5,515.7 106.5,514.1 107.5,515.7 108.5,515.3 109.5,518.2 110.5,519.8 111.5,519.9 112.5,519.1 113.5,521.5 114.5,514.3 115.5,511.5 116.5,509.5 117.5,507.3 118.5,499.0 119.5,492.6 120.5,486.4 121.5,481.0 122.5,480.2 123.5,480.2 124.5,479.2 125.5,480.5 126.5,483.5 127.5,482.2 128.5,480.7 129.5,483.4 130.5,480.9 131.5,480.1 132.5,486.5 133.5,493.3 134.5,495.2 135.5,499.4 136.5,501.3 137.5,506.3 138.5,510.0 139.5,514.3 140.5,515.8 141.5,518.4 142.5,506.0 143.5,495.4 144.5,494.4 145.5,497.7 146.5,497.9 147.5,498.7 148.5,495.9 149.5,499.1 150.5,500.1 151.5,499.4 152.5,502.0 153.5,503.0 154.5,503.2 155.5,504.6 156.5,504.7 157.5,506.9 158.5,498.8 159.5,497.4 160.5,493.0 161.5,497.1 162.5,499.9 163.5,503.3 164.5,510.5 165.5,506.6 166.5,498.9 167.5,493.6 168.5,492.6 169.5,491.0 170.5,492.9 171.5,493.4 172.5,491.5 173.5,489.5 174.5,491.5 175.5,488.6 176.5,492.7 177.5,490.4 178.5,489.0 179.5,492.4 180.5,490.2 181.5,489.5 182.5,487.1 183.5,487.7 184.5,491.3 185.5,495.5 186.5,494.7 187.5,501.6 188.5,502.4 189.5,507.3 190.5,513.6 191.5,531.2 192.5,521.2 193.5,512.3 194.5,511.0 195.5,514.3 196.5,511.7 197.5,515.3 198.5,515.5 199.5,513.8 200.5,510.9 201.5,514.2 202.5,510.0 203.5,512.0 204.5,512.5 205.5,511.5 206.5,515.2 207.5,516.6 208.5,516.7 209.5,516.6 210.5,518.1 211.5,516.4 212.5,512.6 213.5,513.8 214.5,512.5 215.5,509.5 216.5,510.7 217.5,507.9 218.5,511.6 219.5,507.5 220.5,509.9 221.5,507.2 222.5,507.8 223.5,507.9 224.5,507.0 225.5,504.8 226.5,504.6 227.5,504.2 228.5,505.7 229.5,505.5 230.5,505.5 231.5,509.2 232.5,509.1 233.5,509.7 234.5,509.5 235.5,513.0 236.5,511.1 237.5,512.0 238.5,514.1 239.5,515.4 240.5,517.4 241.5,516.8 242.5,518.4 243.5,518.9 244.5,518.5 245.5,519.1 246.5,519.3 247.5,523.5 248.5,523.6 249.5,528.8 250.5,529.1 251.5,529.7 252.5,528.8 253.5,530.9 254.5,531.7 255.5,535.7 256.5,532.5 257.5,524.0 258.5,534.7 259.5,524.4 260.5,514.3 261.5,507.5 262.5,497.5 263.5,504.3 264.5,511.0 265.5,509.4 266.5,507.9 267.5,509.4 268.5,506.9 269.5,508.5 270.5,507.1 271.5,510.5 272.5,512.9 273.5,515.3 274.5,512.5 275.5,513.0 276.5,518.7 277.5,521.7 278.5,523.5 279.5,525.3 280.5,525.6 281.5,523.5 282.5,516.1 283.5,528.2 284.5,539.4 285.5,531.0 286.5,526.8 287.5,519.4 288.5,523.2 289.5,525.0 290.5,523.2 291.5,516.6 292.5,511.6 293.5,513.4 294.5,512.4 295.5,510.5 296.5,514.7 297.5,514.4 298.5,512.8 299.5,510.7 300.5,514.9 301.5,509.8 302.5,504.2 303.5,502.1 304.5,501.0 305.5,499.6 306.5,494.9 307.5,494.0 308.5,490.2 309.5,488.7 310.5,491.0 311.5,487.4 312.5,492.0 313.5,500.5 314.5,495.8 315.5,493.8 316.5,492.8 317.5,491.9 318.5,490.7 319.5,489.5 320.5,486.7 321.5,485.4 322.5,489.3 323.5,486.6 324.5,489.3 325.5,489.5 326.5,490.3 327.5,489.9 328.5,486.9 329.5,488.3 330.5,488.0 331.5,488.5 332.5,488.5 333.5,494.0 334.5,489.5 335.5,483.8 336.5,481.7 337.5,482.4 338.5,477.3 339.5,476.8 340.5,477.4 341.5,479.0 342.5,479.3 343.5,481.2 344.5,478.7 345.5,480.0 346.5,485.4 347.5,485.0 348.5,481.7 349.5,482.2 350.5,483.7 351.5,485.5 352.5,480.3 353.5,480.9 354.5,492.8 355.5,502.0 356.5,514.1 357.5,510.1 358.5,508.8 359.5,507.3 360.5,510.3 361.5,507.8 362.5,513.0 363.5,512.4 364.5,510.6 365.5,514.5 366.5,510.7 367.5,511.9 368.5,509.2 369.5,512.0 370.5,511.9 371.5,514.4 372.5,512.2 373.5,518.8 374.5,514.3 375.5,512.6 376.5,508.0 377.5,505.6 378.5,507.8 379.5,511.2 380.5,509.9 381.5,507.4 382.5,507.6 383.5,504.0 384.5,502.9 385.5,499.3 386.5,501.4 387.5,496.2 388.5,498.6 389.5,497.8 390.5,495.2 391.5,492.7 392.5,494.6 393.5,491.5 394.5,491.4 395.5,488.7 396.5,491.8 397.5,488.4 398.5,486.3 399.5,485.2 400.5,488.6 401.5,489.3 402.5,489.5 403.5,486.0 404.5,480.8 405.5,474.0 406.5,486.3 407.5,493.2 408.5,503.0 409.5,512.4 410.5,512.6 411.5,510.0 412.5,511.6 413.5,513.1 414.5,515.0 415.5,513.5 416.5,512.1 417.5,510.8 418.5,509.5 419.5,509.6 420.5,508.7 421.5,509.1 422.5,507.2 423.5,506.5 424.5,504.4 425.5,501.4 426.5,498.1 427.5,501.2 428.5,510.9 429.5,514.1 430.5,514.3 431.5,518.9 432.5,516.4 433.5,521.2 434.5,519.7 435.5,522.3 436.5,521.3 437.5,522.8 438.5,524.2 439.5,525.4 440.5,525.5 441.5,528.5 442.5,532.4 443.5,524.1 444.5,518.8 445.5,511.3 446.5,510.0 447.5,509.1 448.5,506.3 449.5,507.6 450.5,511.2 451.5,515.8 452.5,517.6 453.5,516.7 454.5,517.9 455.5,516.1 456.5,511.1 457.5,511.4 458.5,511.0 459.5,511.1 460.5,510.3 461.5,508.6 462.5,506.0 463.5,509.0 464.5,505.9 465.5,506.8 466.5,504.9 467.5,505.2 468.5,509.0 469.5,506.6 470.5,510.2 471.5,512.0 472.5,512.7 473.5,515.9 474.5,514.5 475.5,514.6 476.5,510.9 477.5,509.8 478.5,502.9 479.5,500.2 480.5,497.3 481.5,497.0 482.5,491.8 483.5,492.3 484.5,493.8 485.5,494.4 486.5,492.0 487.5,494.9 488.5,497.7 489.5,499.4 490.5,501.2 491.5,502.9 492.5,502.1 493.5,503.8 494.5,503.9 495.5,508.5 496.5,507.3 497.5,508.8 498.5,514.0 499.5,514.0 500.5,515.5 501.5,519.1 502.5,522.2 503.5,526.0 504.5,529.0 505.5,532.8 506.5,537.8 507.5,533.6 508.5,531.3 509.5,531.2 510.5,532.1 511.5,535.0 512.5,535.3 513.5,531.9 514.5,527.9 515.5,528.3 516.5,529.7 517.5,533.7 518.5,539.0 519.5,534.5 520.5,530.9 521.5,524.7 522.5,530.1 523.5,531.0 524.5,539.2 525.5,532.2 526.5,530.7 527.5,522.7 528.5,529.0 529.5,528.3 530.5,533.8 531.5,530.2 532.5,526.2 533.5,520.9 534.5,518.5 535.5,518.4 536.5,521.0 537.5,516.3 538.5,518.5 539.5,517.8 540.5,517.8 541.5,513.4 542.5,511.2 543.5,513.3 544.5,520.1 545.5,519.4 546.5,519.8 547.5,518.3 548.5,515.6 549.5,511.3 550.5,507.6 551.5,504.1 552.5,492.8 553.5,489.3 554.5,491.3 555.5,498.1 556.5,493.5 557.5,495.1 558.5,490.8 559.5,493.0 560.5,495.4 561.5,495.1 562.5,495.7 563.5,498.5 564.5,495.9 565.5,497.9 566.5,501.3 567.5,500.1 568.5,501.5 569.5,516.6 570.5,509.8 571.5,502.0 572.5,495.7 573.5,494.2 574.5,495.5 575.5,490.8 576.5,497.2 577.5,501.3 578.5,501.7 579.5,501.3 580.5,504.0 581.5,503.1 582.5,504.0 583.5,504.6 584.5,500.7 585.5,500.1 586.5,501.5 587.5,499.6 588.5,499.5 589.5,500.1 590.5,498.1 591.5,503.5 592.5,510.6 593.5,516.8 594.5,516.2 595.5,511.3 596.5,505.9 597.5,507.1 598.5,510.2 599.5,509.8 600.5,511.9 601.5,511.3 602.5,509.8 603.5,505.1 604.5,508.2 605.5,505.1 606.5,502.7 607.5,501.4 608.5,503.8 609.5,499.6 610.5,497.9 611.5,502.2 612.5,508.8 613.5,509.8 614.5,511.9 615.5,509.4 616.5,512.0 617.5,512.1 618.5,516.2 619.5,523.1 620.5,526.3 621.5,522.6 622.5,524.4 623.5,520.9 624.5,518.4 625.5,516.6 626.5,518.8 627.5,516.8 628.5,513.1 629.5,514.1 630.5,514.2 631.5,514.2 632.5,513.7 633.5,516.0 634.5,517.5 635.5,518.8 636.5,514.2 637.5,515.5 638.5,514.2 639.5,511.2 640.5,509.8 641.5,500.3 642.5,496.0 643.5,485.4 644.5,487.1 645.5,490.5 646.5,493.5 647.5,490.9 648.5,492.0 649.5,491.5 650.5,493.9 651.5,492.8 652.5,493.5 653.5,496.6 654.5,496.2 655.5,498.4 656.5,496.1 657.5,497.9 658.5,497.8 659.5,505.6 660.5,505.3 661.5,509.7 662.5,513.1 663.5,509.2 664.5,501.0 665.5,497.5 666.5,497.0 667.5,496.4 668.5,500.9 669.5,499.1 670.5,504.5 671.5,502.4 672.5,501.8 673.5,506.1 674.5,503.5 675.5,504.5 676.5,504.9 677.5,507.2 678.5,504.6 679.5,502.9 680.5,498.3 681.5,498.1 682.5,490.5 683.5,492.8 684.5,490.3 685.5,490.5 686.5,490.3 687.5,488.1 688.5,482.2 689.5,479.7 690.5,476.1 691.5,482.6 692.5,480.7 693.5,482.9 694.5,487.1 695.5,488.7 696.5,491.4 697.5,488.5 698.5,490.7 699.5,488.9 700.5,489.6 701.5,487.6 702.5,485.9 703.5,486.9 704.5,486.8 705.5,488.8 706.5,490.3 707.5,487.8 708.5,492.2 709.5,491.0 710.5,490.8 711.5,492.4 712.5,485.7 713.5,482.6 714.5,483.9 715.5,483.9 716.5,502.3 717.5,516.9 718.5,520.6 719.5,527.1 720.5,528.7 721.5,528.5 722.5,527.8 723.5,527.1 724.5,524.6 725.5,524.7 726.5,526.3 727.5,525.4 728.5,524.2 729.5,522.3 730.5,520.3 731.5,521.5 732.5,525.9 733.5,535.0 734.5,537.4 735.5,539.4 736.5,546.0 737.5,546.3 738.5,548.7 739.5,541.8 740.5,535.1 741.5,533.2 742.5,527.5 743.5,528.2 744.5,527.6 745.5,526.9 746.5,527.9 747.5,528.5 748.5,520.1 749.5,518.1 750.5,514.7 751.5,510.4 752.5,505.7 753.5,503.9 754.5,508.3 755.5,507.9 756.5,505.7 757.5,507.9 758.5,511.8 759.5,509.3 760.5,511.5 761.5,511.9 762.5,509.2 763.5,503.5 764.5,503.6 765.5,499.3 766.5,500.2 767.5,500.1 768.5,496.3 769.5,496.2 770.5,495.6 771.5,495.4 772.5,493.9 773.5,494.0 774.5,494.9 775.5,494.6 776.5,491.2 777.5,492.1 778.5,492.2 779.5,493.7 780.5,495.9 781.5,501.0 782.5,504.2 783.5,507.4 784.5,513.4 785.5,515.6 786.5,514.5 787.5,507.6 788.5,504.3 789.5,505.3 790.5,502.3 791.5,500.7 792.5,497.7 793.5,498.7 794.5,500.0 795.5,502.3 796.5,499.5 797.5,503.3 798.5,500.0 799.5,498.8 800.5,500.6 801.5,498.5 802.5,498.2 803.5,496.9 804.5,493.9 805.5,490.5 806.5,493.9 807.5,500.8 808.5,506.1 809.5,518.9 810.5,532.9 811.5,527.5 812.5,523.4 813.5,521.0 814.5,519.2 815.5,522.0 816.5,523.8 817.5,525.6 818.5,526.4 819.5,521.1 820.5,521.1 821.5,524.6 822.5,524.1 823.5,519.4 824.5,519.8 825.5,520.1 826.5,519.1 827.5,519.6 828.5,519.9 829.5,518.8 830.5,517.8 831.5,517.3 832.5,517.1 833.5,516.2 834.5,518.2 835.5,518.0 836.5,516.4 837.5,519.7 838.5,519.9 839.5,518.6 840.5,520.0 841.5,526.9 842.5,539.1 843.5,534.9 844.5,530.0 845.5,528.1 846.5,528.4 847.5,524.4 848.5,529.4 849.5,530.3 850.5,536.5 851.5,535.3 852.5,530.5 853.5,531.7 854.5,528.5 855.5,533.5 856.5,536.5 857.5,539.0 858.5,538.7 859.5,532.0 860.5,528.8 861.5,522.3 862.5,520.8 863.5,521.7 864.5,524.2 865.5,522.4 866.5,525.7 867.5,523.7 868.5,523.8 869.5,524.6 870.5,525.2 871.5,525.5 872.5,521.5 873.5,524.3 874.5,521.2 875.5,521.0 876.5,525.4 877.5,528.3 878.5,530.6 879.5,531.5 880.5,527.5 881.5,527.6 882.5,528.8 883.5,527.5 884.5,527.6 885.5,528.6 886.5,516.4 887.5,501.6 888.5,499.4 889.5,499.0 890.5,496.5 891.5,493.4 892.5,492.9 893.5,494.3 894.5,490.4 895.5,492.5 896.5,488.9 897.5,487.7 898.5,489.1 899.5,486.3 900.5,489.2 901.5,488.5 902.5,486.0 903.5,484.3 904.5,483.5 905.5,485.0 906.5,483.4 907.5,481.0 908.5,481.1 909.5,481.4 910.5,483.9 911.5,481.8 912.5,482.9 913.5,485.0 914.5,486.1 915.5,485.6 916.5,488.2 917.5,486.6 918.5,488.5 919.5,490.7 920.5,493.3 921.5,495.0 922.5,494.4 923.5,493.1 924.5,493.8 925.5,492.2 926.5,493.9 927.5,494.7 928.5,499.8 929.5,503.7 930.5,504.9 931.5,506.7 932.5,514.4 933.5,517.4 934.5,516.8 935.5,521.8 936.5,521.6 937.5,519.0 938.5,516.8 939.5,519.3 940.5,518.4 941.5,515.3 942.5,512.1 943.5,512.3 944.5,509.4 945.5,512.3 946.5,507.8 947.5,508.9 948.5,511.3 949.5,508.2 950.5,508.0 951.5,502.9 952.5,498.3 953.5,505.2 954.5,511.7 955.5,513.3 956.5,515.0 957.5,519.7 958.5,519.6 959.5,518.7 960.5,517.1 961.5,517.2 962.5,520.4 963.5,517.1 964.5,518.8 965.5,522.2 966.5,524.0 967.5,517.4 968.5,508.5 969.5,504.3 970.5,501.9 971.5,499.6 972.5,499.8 973.5,506.1 974.5,511.2 975.5,513.1 976.5,517.5 977.5,525.3 978.5,516.0 979.5,514.6 980.5,507.2 981.5,507.2 982.5,507.8 983.5,509.3 984.5,512.5 985.5,507.2 986.5,509.8 987.5,506.1 988.5,509.0 989.5,515.6 990.5,517.2 991.5,521.1 992.5,526.9 993.5,533.6 994.5,529.8 995.5,524.4 996.5,517.6 997.5,519.7 998.5,517.2 999.5,517.0 1000.5,520.6 1001.5,520.8 1002.5,526.7 1003.5,525.3 1004.5,521.3 1005.5,520.6 1006.5,519.4 1007.5,516.8 1008.5,514.4 1009.5,510.6 1010.5,508.6 1011.5,515.0 1012.5,515.6 1013.5,519.7 1014.5,523.9 1015.5,519.3 1016.5,512.7 1017.5,512.1 1018.5,506.5 1019.5,502.5 1020.5,496.1 1021.5,499.6 1022.5,503.2 1023.5,503.8 1024.5,504.5 1025.5,501.9 1026.5,502.9 1027.5,498.2 1028.5,499.2 1029.5,497.2 1030.5,498.6 1031.5,495.2 1032.5,496.7 1033.5,496.3 1034.5,496.1 1035.5,492.0 1036.5,495.6 1037.5,494.2 1038.5,498.1 1039.5,502.3 1040.5,503.5 1041.5,511.9 1042.5,507.7 1043.5,504.8 1044.5,498.2 1045.5,494.4 1046.5,488.4 1047.5,487.8 1048.5,483.6 1049.5,483.2 1050.5,481.7 1051.5,483.3 1052.5,486.6 1053.5,487.4 1054.5,493.5 1055.5,491.4 1056.5,491.4 1057.5,492.1 1058.5,496.2 1059.5,496.0 1060.5,499.8 1061.5,502.0 1062.5,506.5 1063.5,508.5 1064.5,506.5 1065.5,509.4 1066.5,512.0 1067.5,512.4 1068.5,517.0 1069.5,518.7 1070.5,519.1 1071.5,522.9 1072.5,522.4 1073.5,521.0 1074.5,524.4 1075.5,526.6 1076.5,526.5 1077.5,527.7 1078.5,528.8 1079.5,532.5 1080.5,532.8 1081.5,531.1 1082.5,532.5 1083.5,533.1 1084.5,536.7 1085.5,536.0 1086.5,535.1 1087.5,541.1 1088.5,538.7 1089.5,543.5 1090.5,544.7 1091.5,547.3 1092.5,547.1 1093.5,546.7 1094.5,550.1 1095.5,546.6 1096.5,541.4 1097.5,534.3 1098.5,528.6 1099.5,530.0 1100.5,529.0 1101.5,524.8 1102.5,526.9 1103.5,526.5 1104.5,522.7 1105.5,521.4 1106.5,522.0 1107.5,522.1 1108.5,516.1 1109.5,514.2 1110.5,511.9 1111.5,511.6 1112.5,506.4 1113.5,506.7 1114.5,505.0 1115.5,504.3 1116.5,500.2 1117.5,505.0 1118.5,506.0 1119.5,504.6 1120.5,506.5 1121.5,509.1 1122.5,518.4 1123.5,522.3 1124.5,523.5 1125.5,524.3 1126.5,522.1 1127.5,525.1 1128.5,522.0 1129.5,521.6 1130.5,524.5 1131.5,527.0 1132.5,520.8 1133.5,514.8 1134.5,506.3 1135.5,502.2 1136.5,499.3 1137.5,496.2 1138.5,497.7 1139.5,497.5 1140.5,494.6 1141.5,492.9 1142.5,488.6 1143.5,486.1 1144.5,484.2 1145.5,482.1 1146.5,486.2 1147.5,488.6 1148.5,492.5 1149.5,494.7 1150.5,497.1 1151.5,497.7 1152.5,495.7 1153.5,495.4 1154.5,496.3 1155.5,494.2 1156.5,495.9 1157.5,497.0 1158.5,492.5 1159.5,493.4 1160.5,493.1 1161.5,495.9 1162.5,498.4 1163.5,501.1 1164.5,503.9 1165.5,511.7 1166.5,503.1 1167.5,489.8 1168.5,508.2 1169.5,519.7 1170.5,525.9 1171.5,522.8 1172.5,523.5 1173.5,524.4 1174.5,523.2 1175.5,527.3 1176.5,530.7 1177.5,530.0 1178.5,524.2 1179.5,525.8 1180.5,522.7 1181.5,522.0 1182.5,521.3 1183.5,521.6 1184.5,521.6 1185.5,519.0 1186.5,525.8 1187.5,533.6 1188.5,525.4 1189.5,518.5 1190.5,518.1 1191.5,518.0 1192.5,518.4 1193.5,521.9 1194.5,519.7 1195.5,520.4 1196.5,516.9" stroke="#1e90ff" stroke-width="1" fill="none" shape-rendering="crispEdges"/>
<polyline points="5.5,529.4 7.5,529.4 9.5,529.4 11.5,529.4 13.5,529.4 15.5,529.6 17.5,530.1 19.5,531.3 21.5,533.5 23.5,536.6 25.5,540.4 27.5,544.6 29.5,549.0 31.5,552.0 33.5,553.8 35.5,554.3 37.5,553.7 39.5,551.9 41.5,550.1 43.5,548.6 45.5,547.5 47.5,546.7 49.5,546.3 51.5,546.2 53.5,545.9 55.5,545.3 57.5,544.3 59.5,542.6 61.5,540.2 63.5,538.0 65.5,536.0 67.5,534.4 69.5,533.5 71.5,533.3 73.5,533.3 75.5,533.4 77.5,533.6 79.5,533.9 81.5,534.1 83.5,534.3 85.5,534.5 87.5,534.6 89.5,534.3 91.5,533.8 93.5,532.7 95.5,530.8 97.5,528.6 99.5,526.2 101.5,523.8 103.5,521.9 105.5,520.5 107.5,519.6 109.5,519.2 111.5,519.4 113.5,519.4 115.5,518.6 117.5,516.6 119.5,512.8 121.5,507.2 123.5,500.4 125.5,494.0 127.5,488.4 129.5,484.3 131.5,482.6 133.5,483.2 135.5,485.2 137.5,488.5 139.5,492.2 141.5,495.5 143.5,498.3 145.5,500.3 147.5,501.4 149.5,502.0 151.5,502.0 153.5,501.9 155.5,501.8 157.5,501.8 159.5,502.2 161.5,502.8 163.5,503.4 165.5,504.1 167.5,504.7 169.5,504.8 171.5,504.6 173.5,504.0 175.5,503.0 177.5,501.8 179.5,500.6 181.5,499.4 183.5,498.6 185.5,498.6 187.5,499.8 189.5,502.2 191.5,505.7 193.5,509.6 195.5,512.9 197.5,515.2 199.5,516.5 201.5,516.8 203.5,516.7 205.5,516.5 207.5,516.3 209.5,516.1 211.5,515.9 213.5,515.7 215.5,515.5 217.5,515.3 219.5,515.0 221.5,514.7 223.5,514.4 225.5,514.0 227.5,513.7 229.5,513.7 231.5,513.9 233.5,514.3 235.5,515.0 237.5,515.8 239.5,516.6 241.5,517.4 243.5,518.5 245.5,520.0 247.5,521.7 249.5,523.8 251.5,526.2 253.5,528.0 255.5,529.3 257.5,529.9 259.5,529.7 261.5,528.7 263.5,527.2 265.5,525.2 267.5,522.9 269.5,520.6 271.5,518.7 273.5,517.5 275.5,517.5 277.5,518.7 279.5,520.7 281.5,523.1 283.5,525.9 285.5,528.2 287.5,530.0 289.5,531.3 291.5,531.8 293.5,531.6 295.5,530.6 297.5,528.8 299.5,526.4 301.5,523.4 303.5,520.0 305.5,516.2 307.5,512.0 309.5,507.6 311.5,503.1 313.5,498.5 315.5,494.7 317.5,491.7 319.5,489.5 321.5,488.2 323.5,487.7 325.5,487.5 327.5,487.5 329.5,487.4 331.5,487.0 333.5,486.2 335.5,484.9 337.5,482.8 339.5,479.7 341.5,476.6 343.5,473.8 345.5,471.6 347.5,470.9 349.5,472.5 351.5,475.7 353.5,480.4 355.5,486.3 357.5,492.5 359.5,498.2 361.5,502.9 363.5,506.6 365.5,509.3 367.5,511.3 369.5,512.9 371.5,514.1 373.5,515.0 375.5,515.5 377.5,515.8 379.5,515.8 381.5,515.0 383.5,513.8 385.5,512.2 387.5,510.0 389.5,507.7 391.5,505.5 393.5,503.5 395.5,501.7 397.5,500.2 399.5,499.0 401.5,497.8 403.5,497.2 405.5,497.0 407.5,497.4 409.5,498.9 411.5,501.3 413.5,504.0 415.5,507.0 417.5,509.9 419.5,512.0 421.5,513.4 423.5,514.2 425.5,514.3 427.5,514.3 429.5,514.8 431.5,515.8 433.5,517.6 435.5,520.0 437.5,522.7 439.5,525.3 441.5,527.7 443.5,529.9 445.5,531.4 447.5,532.3 449.5,532.5 451.5,531.7 453.5,529.9 455.5,528.1 457.5,526.3 459.5,524.8 461.5,523.8 463.5,523.3 465.5,522.9 467.5,522.5 469.5,521.7 471.5,520.7 473.5,519.6 475.5,518.5 477.5,517.0 479.5,515.0 481.5,512.4 483.5,509.4 485.5,506.2 487.5,503.3 489.5,501.3 491.5,500.3 493.5,500.7 495.5,502.4 497.5,505.2 499.5,509.0 501.5,513.6 503.5,518.4 505.5,523.5 507.5,528.5 509.5,533.1 511.5,537.3 513.5,540.4 515.5,542.6 517.5,543.9 519.5,544.6 521.5,544.8 523.5,545.0 525.5,545.0 527.5,544.8 529.5,544.4 531.5,543.6 533.5,542.4 535.5,540.8 537.5,539.0 539.5,537.2 541.5,535.4 543.5,533.6 545.5,532.0 547.5,530.1 549.5,527.7 551.5,524.7 553.5,520.1 555.5,514.2 557.5,507.4 559.5,500.7 561.5,494.7 563.5,490.7 565.5,488.6 567.5,488.1 569.5,488.7 571.5,489.7 573.5,490.6 575.5,491.3 577.5,491.9 579.5,492.6 581.5,493.4 583.5,494.6 585.5,496.2 587.5,498.1 589.5,500.2 591.5,502.4 593.5,504.6 595.5,507.0 597.5,509.1 599.5,510.7 601.5,511.7 603.5,512.1 605.5,512.0 607.5,511.7 609.5,511.5 611.5,511.5 613.5,512.2 615.5,513.7 617.5,515.7 619.5,518.1 621.5,520.9 623.5,523.0 625.5,524.6 627.5,525.4 629.5,525.5 631.5,524.9 633.5,524.0 635.5,522.8 637.5,521.2 639.5,519.2 641.5,516.8 643.5,513.8 645.5,510.3 647.5,506.7 649.5,503.6 651.5,501.0 653.5,499.5 655.5,499.0 657.5,499.3 659.5,500.2 661.5,501.8 663.5,503.4 665.5,505.0 667.5,506.4 669.5,507.4 671.5,508.0 673.5,508.6 675.5,509.2 677.5,509.8 679.5,510.4 681.5,511.0 683.5,511.3 685.5,511.3 687.5,510.8 689.5,509.6 691.5,507.8 693.5,505.7 695.5,503.2 697.5,501.0 699.5,499.5 701.5,498.7 703.5,498.7 705.5,499.5 707.5,500.7 709.5,501.9 711.5,503.1 713.5,504.4 715.5,505.7 717.5,507.4 719.5,509.8 721.5,512.8 723.5,516.0 725.5,519.3 727.5,522.7 729.5,526.2 731.5,529.8 733.5,533.8 735.5,538.2 737.5,542.6 739.5,546.3 741.5,549.5 743.5,551.3 745.5,551.6 747.5,550.5 749.5,547.9 751.5,543.9 753.5,539.4 755.5,534.5 757.5,529.6 759.5,525.2 761.5,521.4 763.5,518.0 765.5,515.0 767.5,512.3 769.5,509.9 771.5,507.7 773.5,506.0 775.5,504.7 777.5,503.9 779.5,503.5 781.5,503.5 783.5,504.0 785.5,505.0 787.5,506.1 789.5,507.0 791.5,507.8 793.5,508.1 795.5,507.8 797.5,507.2 799.5,506.7 801.5,506.3 803.5,506.4 805.5,507.0 807.5,508.4 809.5,511.1 811.5,515.1 813.5,519.4 815.5,524.1 817.5,528.4 819.5,531.6 821.5,533.8 823.5,535.4 825.5,536.3 827.5,536.6 829.5,536.4 831.5,535.6 833.5,534.4 835.5,532.8 837.5,531.1 839.5,529.6 841.5,528.4 843.5,528.0 845.5,528.4 847.5,529.5 849.5,531.0 851.5,533.0 853.5,534.9 855.5,536.8 857.5,538.4 859.5,539.7 861.5,540.7 863.5,541.1 865.5,540.8 867.5,540.0 869.5,539.0 871.5,537.6 873.5,536.4 875.5,535.5 877.5,534.9 879.5,534.7 881.5,534.9 883.5,534.5 885.5,533.6 887.5,531.5 889.5,527.7 891.5,522.1 893.5,515.7 895.5,508.5 897.5,501.4 899.5,495.2 901.5,490.0 903.5,485.9 905.5,483.0 907.5,480.8 909.5,479.1 911.5,477.9 913.5,477.3 915.5,477.2 917.5,478.0 919.5,480.2 921.5,483.6 923.5,487.5 925.5,492.0 927.5,496.6 929.5,500.8 931.5,504.6 933.5,508.3 935.5,511.8 937.5,514.9 939.5,517.4 941.5,519.4 943.5,520.8 945.5,521.5 947.5,521.6 949.5,521.2 951.5,520.2 953.5,519.1 955.5,518.0 957.5,517.1 959.5,516.8 961.5,517.2 963.5,518.0 965.5,519.0 967.5,519.9 969.5,520.3 971.5,520.1 973.5,519.5 975.5,518.5 977.5,517.4 979.5,516.7 981.5,516.3 983.5,516.0 985.5,515.8 987.5,515.8 989.5,516.5 991.5,517.7 993.5,519.3 995.5,521.3 997.5,523.3 999.5,524.9 1001.5,526.1 1003.5,527.0 1005.5,527.8 1007.5,528.2 1009.5,528.3 1011.5,528.1 1013.5,527.7 1015.5,527.0 1017.5,526.0 1019.5,524.6 1021.5,522.8 1023.5,520.0 1025.5,516.1 1027.5,511.6 1029.5,507.1 1031.5,502.5 1033.5,499.3 1035.5,497.4 1037.5,496.6 1039.5,496.5 1041.5,497.4 1043.5,498.5 1045.5,498.7 1047.5,498.1 1049.5,496.6 1051.5,494.1 1053.5,490.9 1055.5,488.0 1057.5,485.6 1059.5,484.3 1061.5,483.9 1063.5,484.5 1065.5,486.2 1067.5,488.8 1069.5,492.2 1071.5,496.4 1073.5,501.2 1075.5,506.7 1077.5,512.3 1079.5,517.5 1081.5,522.3 1083.5,526.5 1085.5,530.0 1087.5,533.2 1089.5,536.6 1091.5,540.0 1093.5,543.0 1095.5,545.8 1097.5,548.1 1099.5,549.9 1101.5,551.1 1103.5,551.2 1105.5,550.1 1107.5,547.8 1109.5,544.0 1111.5,538.8 1113.5,533.3 1115.5,527.5 1117.5,522.2 1119.5,518.4 1121.5,516.0 1123.5,515.1 1125.5,515.7 1127.5,517.3 1129.5,519.3 1131.5,521.7 1133.5,523.6 1135.5,524.8 1137.5,525.0 1139.5,523.3 1141.5,519.9 1143.5,514.3 1145.5,507.4 1147.5,500.6 1149.5,494.9 1151.5,490.7 1153.5,489.1 1155.5,489.2 1157.5,490.2 1159.5,491.7 1161.5,493.1 1163.5,495.1 1165.5,498.0 1167.5,502.0 1169.5,507.1 1171.5,513.6 1173.5,520.9 1175.5,528.0 1177.5,534.1 1179.5,539.2 1181.5,542.6 1183.5,544.3 1185.5,544.7 1187.5,544.4 1189.5,543.5 1191.5,542.0 1193.5,541.3 1195.5,540.5" stroke="#ff0000" stroke-width="1" fill="none" shape-rendering="crispEdges"/>
<path d="M4.5 460.5H1318.5V565.5H4.5Z" stroke="#000" stroke-width="1" fill="none" shape-rendering="crispEdges"/>
<text x="8.5" y="473" font-size="10" letter-spacing="-0.27" fill="#000">MACD(12,26,9) -35.76 -47.11</text>
<rect x="1319" y="462" width="2" height="1" fill="#000"/>
<rect x="1319" y="519" width="2" height="1" fill="#000"/>
<rect x="1319" y="564" width="2" height="1" fill="#000"/>
<text x="1322.5" y="471" font-size="10" letter-spacing="-0.5" fill="#000">125.67</text>
<text x="1321" y="486" font-size="10" letter-spacing="-0.5" fill="#000">80</text>
<text x="1321" y="517" font-size="10" letter-spacing="-0.5" fill="#000">50</text>
<text x="1322.5" y="523" font-size="10" letter-spacing="-0.5" fill="#000">0.00</text>
<text x="1321" y="548" font-size="10" letter-spacing="-0.5" fill="#000">20</text>
<text x="1322" y="562" font-size="10" letter-spacing="-0.5" fill="#000">-100.48</text>
<rect x="5" y="566" width="1" height="3" fill="#000"/>
<text x="4" y="578" font-size="10" letter-spacing="-0.4" fill="#000">29 Dec 2023</text>
<rect x="69" y="566" width="1" height="3" fill="#000"/>
<text x="68" y="578" font-size="10" letter-spacing="-0.4" fill="#000">4 Jan 13:00</text>
<rect x="133" y="566" width="1" height="3" fill="#000"/>
<text x="132" y="578" font-size="10" letter-spacing="-0.4" fill="#000">9 Jan 06:00</text>
<rect x="197" y="566" width="1" height="3" fill="#000"/>
<text x="196" y="578" font-size="10" letter-spacing="-0.4" fill="#000">11 Jan 22:00</text>
<rect x="261" y="566" width="1" height="3" fill="#000"/>
<text x="260" y="578" font-size="10" letter-spacing="-0.4" fill="#000">16 Jan 15:00</text>
<rect x="325" y="566" width="1" height="3" fill="#000"/>
<text x="324" y="578" font-size="10" letter-spacing="-0.4" fill="#000">19 Jan 07:00</text>
<rect x="389" y="566" width="1" height="3" fill="#000"/>
<text x="388" y="578" font-size="10" letter-spacing="-0.4" fill="#000">24 Jan 00:00</text>
<rect x="453" y="566" width="1" height="3" fill="#000"/>
<text x="452" y="578" font-size="10" letter-spacing="-0.4" fill="#000">26 Jan 16:00</text>
<rect x="517" y="566" width="1" height="3" fill="#000"/>
<text x="516" y="578" font-size="10" letter-spacing="-0.4" fill="#000">31 Jan 09:00</text>
<rect x="581" y="566" width="1" height="3" fill="#000"/>
<text x="580" y="578" font-size="10" letter-spacing="-0.4" fill="#000">5 Feb 02:00</text>
<rect x="645" y="566" width="1" height="3" fill="#000"/>
<text x="644" y="578" font-size="10" letter-spacing="-0.4" fill="#000">7 Feb 18:00</text>
<rect x="709" y="566" width="1" height="3" fill="#000"/>
<text x="708" y="578" font-size="10" letter-spacing="-0.4" fill="#000">12 Feb 11:00</text>
<rect x="773" y="566" width="1" height="3" fill="#000"/>
<text x="772" y="578" font-size="10" letter-spacing="-0.4" fill="#000">15 Feb 03:00</text>
<rect x="837" y="566" width="1" height="3" fill="#000"/>
<text x="836" y="578" font-size="10" letter-spacing="-0.4" fill="#000">19 Feb 20:00</text>
<rect x="901" y="566" width="1" height="3" fill="#000"/>
<text x="900" y="578" font-size="10" letter-spacing="-0.4" fill="#000">22 Feb 12:00</text>
<rect x="965" y="566" width="1" height="3" fill="#000"/>
<text x="964" y="578" font-size="10" letter-spacing="-0.4" fill="#000">27 Feb 05:00</text>
<rect x="1029" y="566" width="1" height="3" fill="#000"/>
<text x="1028" y="578" font-size="10" letter-spacing="-0.4" fill="#000">29 Feb 21:00</text>
<rect x="1093" y="566" width="1" height="3" fill="#000"/>
<text x="1092" y="578" font-size="10" letter-spacing="-0.4" fill="#000">5 Mar 14:00</text>
<rect x="1157" y="566" width="1" height="3" fill="#000"/>
<text x="1156" y="578" font-size="10" letter-spacing="-0.4" fill="#000">8 Mar 06:00</text>
</svg></body></html>
